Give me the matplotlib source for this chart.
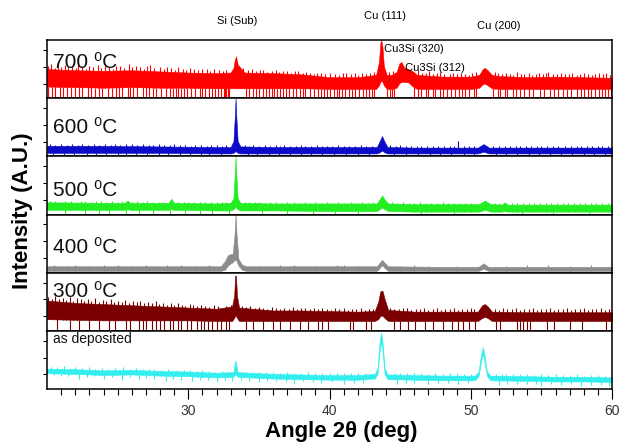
import numpy as np
import matplotlib
matplotlib.use('Agg')
import matplotlib.pyplot as plt

plt.rcParams['font.family'] = ['Liberation Sans', 'DejaVu Sans']

# XRD patterns, intensity in % of each panel height
# each trace: envelope (x, top, low) of the noise band, spikes above it, dropouts below it

# 700 C
red_x   = [20, 22, 24, 26, 28, 30, 32, 33.0, 33.2, 33.3, 33.38, 33.5, 33.7, 34.0, 36, 38, 40, 42,
           43.3, 43.5, 43.6, 43.67, 43.75, 43.85, 44.05, 44.4, 44.75, 44.95, 45.1, 45.3, 45.6, 45.9, 46.2,
           48, 50, 50.6, 50.85, 51.0, 51.2, 51.5, 52, 54, 56, 58, 60]
red_top = [50, 48, 47, 48, 46, 44, 43, 44, 52, 66, 72, 58, 52, 44, 43, 41, 36, 36,
           40, 62, 95, 100, 88, 55, 40, 40, 45, 60, 62, 52, 50, 46, 40,
           37, 37, 40, 50, 52, 48, 40, 38, 36, 37, 36, 35]
red_low = [20, 19, 18, 19, 18, 18, 17, 17, 17, 17, 17, 17, 17, 17, 17, 17, 16, 16,
           16, 22, 28, 30, 28, 22, 16, 16, 18, 26, 28, 28, 27, 20, 16,
           16, 16, 18, 24, 25, 22, 17, 16, 16, 16, 16, 16]
red_up = [(20.1, 55), (20.3, 58), (20.55, 52), (20.8, 60), (21.0, 54), (21.3, 57), (21.5, 53), (21.8, 56),
          (22.05, 52), (22.2, 58), (22.5, 54), (22.75, 51), (23.0, 56), (23.25, 53), (23.6, 57), (23.85, 52),
          (24.1, 55), (24.4, 54), (24.65, 51), (24.9, 56), (25.2, 55), (25.45, 52), (25.8, 58), (26.0, 53),
          (26.3, 55), (26.6, 54), (26.85, 51), (27.1, 55), (27.3, 57), (27.6, 52), (28.0, 54), (28.25, 50),
          (28.5, 53), (28.8, 52), (29.05, 49), (29.3, 53), (29.6, 51), (29.85, 48), (30.1, 52), (30.4, 50),
          (30.7, 48), (30.95, 51), (31.3, 50), (31.55, 47), (31.8, 50), (32.2, 49), (32.45, 47), (32.7, 48),
          (33.9, 52), (34.2, 48), (34.5, 50), (34.8, 46), (35.05, 49), (35.3, 48), (35.6, 45), (35.9, 47),
          (36.2, 49), (36.45, 45), (36.7, 46), (37.0, 47), (37.3, 44), (37.55, 46), (37.8, 46), (38.1, 43),
          (38.35, 45), (38.6, 44), (38.9, 42), (39.15, 44), (39.4, 43), (39.7, 41), (40.0, 43), (40.4, 42),
          (40.7, 40), (40.95, 43), (41.2, 44), (41.5, 41), (41.8, 43), (42.05, 40), (42.3, 43), (42.6, 41),
          (42.9, 43), (43.15, 45), (44.2, 45), (44.5, 47), (46.3, 48), (46.55, 44), (46.8, 44), (47.05, 46),
          (47.3, 42), (47.6, 43), (47.85, 45), (48.1, 41), (48.5, 42), (48.75, 44), (49.0, 41), (49.3, 44),
          (49.6, 42), (49.85, 40), (50.1, 43), (50.35, 45), (51.7, 45), (51.95, 43), (52.2, 41), (52.5, 44),
          (52.75, 42), (53.0, 40), (53.3, 45), (53.55, 42), (53.8, 41), (54.1, 43), (54.35, 40), (54.6, 42),
          (54.8, 44), (55.1, 41), (55.3, 43), (55.5, 45), (55.8, 41), (56.1, 42), (56.4, 44), (56.7, 41),
          (56.95, 42), (57.2, 43), (57.5, 40), (57.75, 42), (58.0, 44), (58.3, 41), (58.55, 40), (58.8, 42),
          (59.1, 44), (59.35, 41), (59.6, 43), (59.85, 40)]
red_drop = [20.1, 20.35, 20.6, 20.9, 21.1, 21.4, 21.7, 22.0, 22.3, 22.5, 22.9, 23.1, 23.4, 23.7, 23.9,
            24.3, 24.6, 24.9, 25.1, 25.3, 25.7, 25.9, 26.1, 26.4, 26.8, 27.0, 27.2, 27.5, 27.7, 28.1,
            28.4, 28.7, 28.9, 29.1, 29.3, 29.5, 29.7, 29.9, 30.2, 30.5, 30.8, 31.0, 31.2, 31.5, 31.7,
            31.9, 32.1, 32.3, 32.5, 32.6, 32.7, 32.8, 32.85, 34.1, 34.3, 34.6, 34.8, 35.0, 35.3, 35.5,
            35.7, 35.9, 36.1, 36.3, 36.5, 36.7, 36.9, 37.1, 37.4, 37.6, 37.9, 38.1, 38.3, 38.6, 38.9,
            39.2, 39.4, 39.6, 39.8, 40.0, 40.3, 40.5, 40.7, 40.9, 41.1, 41.4, 41.6, 41.8, 42.1, 42.4,
            42.6, 42.8, 43.0, 43.15, 44.1, 44.25, 44.4, 44.55, 46.0, 46.3, 46.5, 46.8, 47.0, 47.3, 47.5,
            47.8, 48.0, 48.3, 48.6, 48.9, 49.2, 49.4, 49.6, 49.9, 50.2, 50.4, 51.6, 51.9, 52.1, 52.4,
            52.6, 53.0, 53.2, 53.5, 53.8, 54.1, 54.4, 54.9, 55.2, 55.6, 55.9, 56.2, 56.5, 56.8, 57.1,
            57.5, 57.8, 58.0, 58.3, 58.5, 58.8, 59.1, 59.3, 59.5, 59.7, 59.95]

# 600 C
blue_x   = [20, 24, 28, 32, 33.0, 33.2, 33.3, 33.35, 33.4, 33.5, 33.7, 36, 40,
            43.35, 43.55, 43.72, 43.88, 44.1, 46, 48, 50.5, 50.9, 51.3, 54, 58, 60]
blue_top = [18, 18, 17, 16, 16, 26, 70, 100, 70, 26, 17, 16, 16,
            16, 26, 35, 26, 16, 15, 15, 15, 21, 15, 15, 15, 15]
blue_low = [6, 6, 6, 5, 5, 6, 8, 9, 8, 6, 5, 5, 5,
            5, 7, 10, 7, 5, 5, 5, 5, 8, 5, 5, 5, 5]
blue_up = [(20.2, 21), (20.6, 20), (21.0, 22), (21.4, 20), (21.8, 21), (22.2, 19), (22.5, 21), (22.9, 20),
           (23.3, 22), (23.7, 19), (24.1, 21), (24.5, 20), (24.8, 22), (25.2, 20), (25.6, 21), (26.0, 22),
           (26.4, 19), (26.8, 21), (27.2, 20), (27.5, 19), (27.9, 21), (28.3, 19), (28.7, 20), (29.0, 21),
           (29.4, 19), (29.8, 20), (30.2, 18), (30.5, 20), (30.9, 19), (31.3, 18), (31.6, 20), (32.0, 19),
           (32.4, 18), (32.7, 19), (34.0, 19), (34.3, 18), (34.6, 20), (35.0, 18), (35.4, 19), (35.8, 18),
           (36.2, 19), (36.5, 17), (36.8, 19), (37.2, 18), (37.6, 17), (38.0, 19), (38.3, 18), (38.7, 17),
           (39.1, 19), (39.5, 18), (39.8, 17), (40.2, 18), (40.6, 19), (41.0, 18), (41.4, 17), (41.8, 18),
           (42.2, 19), (42.6, 17), (43.0, 18), (44.3, 19), (44.7, 18), (45.0, 19), (45.4, 17), (45.8, 18),
           (46.2, 17), (46.5, 18), (46.9, 17), (47.3, 18), (47.7, 17), (48.1, 18), (48.5, 17), (48.8, 18),
           (49.1, 27), (49.5, 17), (49.9, 18), (50.2, 17), (51.6, 18), (52.0, 17), (52.4, 18), (52.8, 17),
           (53.2, 18), (53.5, 17), (53.9, 18), (54.3, 17), (54.7, 18), (55.0, 17), (55.4, 18), (55.8, 17),
           (56.2, 18), (56.7, 17), (57.1, 18), (57.5, 17), (57.8, 18), (58.2, 17), (58.6, 18), (59.0, 17),
           (59.3, 18), (59.7, 17)]
blue_drop = [20.4, 21.2, 21.9, 22.8, 23.5, 24.2, 25.0, 25.6, 26.3, 27.1, 27.9, 28.6, 29.4, 30.1,
             30.9, 31.5, 32.3, 34.2, 34.9, 35.7, 36.4, 37.2, 38.0, 38.7, 39.5, 40.3, 41.2, 42.0,
             42.8, 44.6, 45.4, 46.3, 47.1, 47.8, 48.6, 49.5, 50.2, 51.8, 52.5, 53.3, 54.1, 54.8,
             55.6, 56.4, 57.2, 58.0, 58.7, 59.5]

# 500 C
green_x   = [20, 24, 25.5, 25.7, 25.9, 28, 28.6, 28.8, 29.0, 32, 33.0, 33.2, 33.3, 33.35, 33.4, 33.5,
             33.7, 36, 40, 43.35, 43.55, 43.72, 43.9, 44.15, 46, 48, 50.6, 51.0, 51.4, 52.2, 52.4,
             52.6, 56, 60]
green_top = [21, 20, 20, 24, 20, 20, 20, 27, 20, 19, 20, 28, 73, 100, 73, 28,
             20, 19, 19, 19, 26, 33, 26, 19, 18, 18, 18, 24, 18, 17, 21,
             17, 17, 17]
green_low = [8, 8, 8, 9, 8, 8, 8, 9, 8, 7, 7, 9, 12, 13, 12, 9,
             7, 7, 6, 6, 9, 12, 9, 6, 5, 5, 5, 8, 5, 5, 6,
             5, 5, 5]
green_up = [(20.2, 23), (20.6, 24), (21.0, 22), (21.3, 24), (21.7, 23), (22.1, 22), (22.4, 24), (22.7, 23),
            (23.1, 22), (23.5, 24), (23.8, 23), (24.2, 22), (24.6, 23), (25.0, 22), (25.3, 23), (26.0, 22),
            (26.4, 23), (26.8, 22), (27.1, 23), (27.5, 22), (27.9, 21), (28.3, 22), (29.3, 22), (29.7, 21),
            (30.0, 22), (30.4, 21), (30.8, 22), (31.2, 21), (31.6, 22), (32.0, 21), (32.4, 22), (32.7, 21),
            (34.0, 22), (34.3, 21), (34.7, 22), (35.0, 21), (35.4, 20), (35.8, 21), (36.2, 22), (36.6, 20),
            (37.0, 21), (37.5, 21), (37.9, 20), (38.3, 21), (38.6, 20), (39.0, 21), (39.4, 20), (39.8, 21),
            (40.2, 20), (40.6, 21), (41.0, 20), (41.5, 21), (41.9, 20), (42.3, 21), (42.7, 20), (43.05, 21),
            (44.4, 21), (44.8, 20), (45.2, 21), (45.6, 20), (46.0, 20), (46.4, 21), (46.8, 20), (47.2, 19),
            (47.6, 20), (48.0, 21), (48.4, 20), (48.8, 19), (49.2, 20), (49.6, 19), (50.0, 20), (51.7, 20),
            (52.0, 19), (52.9, 19), (53.3, 20), (53.7, 19), (54.1, 20), (54.5, 19), (54.9, 20), (55.3, 19),
            (55.7, 20), (56.1, 19), (56.5, 20), (56.9, 19), (57.3, 20), (57.7, 19), (58.1, 20), (58.5, 19),
            (58.9, 20), (59.3, 19), (59.7, 20)]
green_drop = [21.3, 22.7, 23.7, 24.4, 25.6, 26.5, 27.5, 28.7, 29.8, 30.8, 31.7, 32.9, 35.2, 37.0,
              38.8, 40.4, 42.0, 46.5, 48.8, 53.6, 55.8, 58.4]

# 400 C
grey_x   = [20, 26, 30, 32.3, 32.6, 32.8, 33.0, 33.15, 33.28, 33.35, 33.42, 33.55, 33.8, 34.1, 38,
            43.35, 43.55, 43.72, 43.9, 44.15, 48, 50.55, 50.9, 51.25, 55, 60]
grey_top = [11, 11, 11, 11, 20, 30, 32, 32, 67, 100, 67, 24, 14, 11, 11,
            11, 17, 22, 17, 11, 10, 10, 16, 10, 10, 10]
grey_low = [3, 3, 3, 3, 5, 12, 16, 18, 22, 22, 20, 12, 5, 3, 3,
            3, 8, 13, 8, 3, 3, 3, 7, 3, 3, 3]
grey_up = [(20.5, 13), (21.5, 12), (22.0, 13), (23.0, 12), (24.0, 13), (25.0, 13), (26.0, 12), (27.0, 13),
           (28.5, 14), (29.5, 13), (30.5, 12), (31.5, 13), (35.0, 12), (36.5, 13), (37.5, 13), (39.0, 12),
           (40.5, 13), (41.0, 13), (42.0, 12), (45.0, 12), (46.0, 13), (47.0, 12), (49.0, 12), (52.5, 12),
           (54.0, 13), (55.5, 13), (57.0, 12), (58.5, 13)]
grey_drop = [21.5, 24.5, 27.0, 30.5, 36.0, 40.0, 46.0, 53.0, 57.0]

# 300 C
dred_x   = [20, 22, 24, 26, 28, 30, 32, 33.1, 33.25, 33.32, 33.38, 33.45, 33.6, 36, 38, 40, 42,
            43.2, 43.45, 43.6, 43.75, 43.9, 44.15, 46, 48, 50.5, 50.8, 51.0, 51.2, 51.5, 54, 56, 58, 60]
dred_top = [52, 48, 46, 44, 42, 40, 38, 42, 60, 95, 95, 60, 40, 35, 35, 34, 33,
            34, 50, 68, 69, 55, 36, 33, 33, 33, 44, 46, 42, 33, 32, 32, 32, 32]
dred_low = [20, 19, 18, 18, 18, 18, 17, 17, 22, 26, 26, 22, 17, 17, 17, 17, 17,
            17, 20, 26, 26, 22, 17, 17, 17, 17, 22, 24, 22, 17, 17, 17, 17, 17]
dred_up = [(20.1, 58), (20.35, 55), (20.6, 60), (20.85, 54), (21.1, 57), (21.35, 53), (21.6, 58), (21.85, 52),
           (22.1, 56), (22.4, 54), (22.65, 51), (22.9, 55), (23.15, 52), (23.4, 56), (23.7, 50), (23.95, 53),
           (24.2, 51), (24.5, 54), (24.75, 49), (25.0, 52), (25.3, 50), (25.55, 53), (25.8, 48), (26.1, 51),
           (26.35, 49), (26.6, 52), (26.9, 47), (27.15, 50), (27.4, 48), (27.7, 51), (27.95, 46), (28.2, 48),
           (28.5, 45), (28.75, 48), (29.0, 44), (29.3, 47), (29.55, 45), (29.8, 43), (30.1, 46), (30.35, 44),
           (30.6, 42), (30.9, 45), (31.2, 43), (31.5, 41), (31.8, 44), (32.1, 42), (32.4, 40), (32.7, 43),
           (33.0, 44), (33.8, 43), (34.1, 41), (34.4, 43), (34.7, 39), (35.0, 41), (35.3, 40), (35.6, 38),
           (35.9, 41), (36.2, 39), (36.5, 37), (36.8, 40), (37.1, 38), (37.4, 41), (37.7, 37), (38.0, 39),
           (38.3, 40), (38.6, 37), (38.9, 39), (39.2, 37), (39.5, 40), (39.8, 38), (40.1, 36), (40.4, 39),
           (40.7, 37), (41.0, 39), (41.3, 36), (41.6, 38), (41.9, 37), (42.2, 39), (42.5, 36), (42.8, 38),
           (43.05, 37), (44.3, 40), (44.6, 38), (44.9, 37), (45.2, 39), (45.5, 40), (45.8, 36), (46.1, 38),
           (46.4, 37), (46.7, 39), (47.0, 36), (47.3, 38), (47.6, 40), (47.9, 36), (48.2, 38), (48.5, 37),
           (48.8, 39), (49.1, 36), (49.4, 38), (49.7, 37), (50.0, 39), (50.25, 37), (51.7, 38), (52.0, 36),
           (52.3, 39), (52.6, 37), (52.9, 38), (53.2, 40), (53.5, 36), (53.8, 38), (54.1, 37), (54.4, 39),
           (54.7, 36), (55.0, 38), (55.3, 37), (55.6, 39), (55.9, 36), (56.2, 38), (56.5, 37), (56.8, 39),
           (57.1, 36), (57.4, 38), (57.7, 37), (58.0, 39), (58.3, 36), (58.6, 38), (58.9, 37), (59.2, 39),
           (59.5, 36), (59.8, 38)]
dred_drop = [20.7, 21.6, 22.3, 23.0, 23.7, 24.4, 24.8, 25.6, 25.9, 26.5, 26.8, 27.0, 27.4, 27.7, 28.0,
             28.3, 28.7, 28.9, 29.3, 29.5, 29.9, 30.2, 30.6, 30.9, 31.1, 31.4, 31.7, 32.0, 32.3, 32.7,
             32.9, 34.1, 34.6, 35.3, 36.0, 36.5, 37.2, 37.9, 38.46, 39.17, 39.5, 39.88, 41.42, 41.65,
             42.6, 42.96, 44.6, 44.96, 45.55, 46.03, 46.74, 47.33, 48.0, 48.7, 49.1, 49.45, 49.9, 50.3,
             51.8, 52.06, 53.24, 53.5, 53.7, 53.95, 54.2, 55.4, 55.9, 57.0, 57.9, 59.6, 59.95]

# as deposited
cyan_x   = [20, 22, 24, 26, 28, 30, 32, 33.2, 33.3, 33.35, 33.4, 33.5, 36, 38, 40, 42,
            43.2, 43.4, 43.55, 43.65, 43.75, 43.9, 44.1, 46, 48,
            50.3, 50.55, 50.75, 50.85, 50.95, 51.15, 51.4, 54, 56, 58, 60]
cyan_top = [35, 34, 32, 33, 31, 30, 28, 29, 46, 49, 42, 29, 26, 25, 24, 24,
            26, 36, 82, 97, 82, 36, 25, 24, 23,
            23, 30, 62, 72, 62, 30, 23, 22, 21, 21, 20]
cyan_low = [27, 26, 24, 25, 23, 22, 20, 21, 24, 25, 24, 21, 18, 17, 16, 16,
            18, 26, 66, 80, 66, 26, 17, 16, 15,
            15, 22, 50, 60, 50, 22, 15, 14, 13, 13, 12]
cyan_up = [(20.3, 38), (20.7, 37), (21.2, 39), (21.6, 36), (22.0, 37), (22.5, 36), (23.0, 37), (23.4, 35),
           (23.9, 36), (24.3, 35), (24.8, 36), (25.4, 37), (25.9, 35), (26.3, 36), (26.8, 34), (27.2, 35),
           (27.6, 34), (28.1, 33), (28.6, 34), (29.2, 33), (29.7, 32), (30.1, 33), (30.6, 31), (31.0, 32),
           (31.5, 31), (31.9, 30), (32.4, 31), (32.8, 30), (34.0, 30), (34.5, 30), (35.0, 29), (35.5, 29),
           (36.0, 30), (36.5, 28), (37.0, 29), (37.5, 28), (38.0, 28), (38.5, 29), (39.0, 27), (39.5, 28),
           (40.0, 27), (40.5, 28), (41.0, 27), (41.5, 28), (42.0, 27), (42.5, 28), (44.6, 28), (45.0, 28),
           (45.5, 27), (46.0, 28), (46.5, 27), (47.0, 26), (47.5, 27), (48.0, 26), (48.5, 27), (49.0, 27),
           (49.5, 26), (50.0, 26), (51.8, 26), (52.2, 25), (52.5, 26), (53.0, 25), (53.5, 26), (54.0, 25),
           (54.5, 24), (55.0, 25), (55.5, 24), (56.0, 25), (56.5, 24), (57.0, 24), (57.5, 25), (58.0, 23),
           (58.5, 24), (59.0, 24), (59.5, 23)]
cyan_dn = [(20.5, 24), (21.0, 22), (21.5, 23), (22.3, 18), (22.8, 21), (23.3, 22), (24.0, 17), (24.6, 20),
           (25.3, 16), (25.9, 20), (26.5, 18), (27.0, 19), (27.6, 18), (28.4, 14), (28.9, 17), (29.5, 16),
           (30.3, 13), (30.8, 16), (31.4, 15), (32.0, 12), (32.6, 15), (33.1, 14), (33.7, 15), (34.3, 14),
           (35.0, 12), (35.6, 14), (36.2, 13), (36.9, 12), (37.5, 10), (38.1, 13), (38.8, 12), (39.4, 11),
           (40.2, 12), (41.0, 9), (41.7, 11), (42.4, 11), (44.8, 9), (45.4, 11), (46.0, 10), (47.0, 9),
           (47.7, 10), (48.4, 10), (49.1, 9), (49.8, 10), (52.0, 7), (52.6, 9), (53.3, 8), (54.0, 9),
           (54.6, 8), (55.0, 6), (55.7, 8), (56.4, 7), (57.1, 8), (57.8, 6), (58.5, 7), (59.2, 7), (59.8, 6)]

labels = ['700 \u2070C', '600 \u2070C', '500 \u2070C', '400 \u2070C', '300 \u2070C', 'as deposited']
colors = ['#ff0000', '#0a0ac8', '#22ee22', '#8c8c8c', '#7a0000', '#33eeee']

series = [(red_x, red_top, red_low, red_up, red_drop),
          (blue_x, blue_top, blue_low, blue_up, blue_drop),
          (green_x, green_top, green_low, green_up, green_drop),
          (grey_x, grey_top, grey_low, grey_up, grey_drop),
          (dred_x, dred_top, dred_low, dred_up, dred_drop),
          (cyan_x, cyan_top, cyan_low, cyan_up, [])]
label_y = [0.62, 0.50, 0.41, 0.43, 0.68, 0.86]

W, H = 621, 443
fig, axes = plt.subplots(6, 1, sharex=True, figsize=(W/100, H/100), dpi=100)
fig.subplots_adjust(left=47/W, right=612/W, top=1-40/H, bottom=1-389/H, hspace=0)

for i, ax in enumerate(axes):
    x, top, low, up, drop = series[i]
    c = colors[i]
    ax.fill_between(x, low, top, color=c, lw=0.4, edgecolor=c)
    ux, uy = np.array(up).T
    ax.vlines(ux, np.interp(ux, x, low), uy, color=c, lw=0.8)
    if drop:
        ax.vlines(drop, 0, np.interp(drop, x, low), color=c, lw=0.8)
    ax.set_ylim(0, 100)
    ax.set_xlim(20, 60)
    ax.set_yticks([25, 54, 83])
    ax.tick_params(axis='y', direction='out', length=3, width=0.8, labelleft=False)
    ax.tick_params(axis='x', which='both', bottom=False, labelbottom=False)
    for s in ax.spines.values():
        s.set_linewidth(1.1)
    fs = 10 if i == 5 else 15
    ax.text(0.011, label_y[i], labels[i], transform=ax.transAxes, fontsize=fs,
            va='center', ha='left', color='#111111')

# as deposited trace also dips below its band
dx, dy = np.array(cyan_dn).T
axes[5].vlines(dx, dy, np.interp(dx, cyan_x, cyan_low), color=colors[5], lw=0.8)

ax = axes[5]
ax.set_xticks([30, 40, 50, 60])
ax.set_xticks(np.arange(21, 60, 1), minor=True)
ax.tick_params(axis='x', which='major', bottom=True, labelbottom=True, direction='out',
               length=7, width=0.8, labelsize=10, labelcolor='#333333', pad=4)
ax.tick_params(axis='x', which='minor', bottom=True, direction='out', length=4, width=0.8)

def ftext(px, py, s, **kw):
    fig.text(px/W, 1-py/H, s, **kw)

ftext(237, 21, 'Si (Sub)', fontsize=8, ha='center', va='center')
ftext(385, 16, 'Cu (111)', fontsize=8, ha='center', va='center')
ftext(499, 26, 'Cu (200)', fontsize=8, ha='center', va='center')
ftext(384, 49, 'Cu3Si (320)', fontsize=8, ha='left', va='center')
ftext(405, 68, 'Cu3Si (312)', fontsize=8, ha='left', va='center')
ftext(341, 432, 'Angle 2\u03b8 (deg)', fontsize=16, fontweight='bold', ha='center', va='center')
ftext(23, 211, 'Intensity (A.U.)', fontsize=16, fontweight='bold', ha='center', va='center',
      rotation=90)

fig.savefig('out.png', dpi=100)
